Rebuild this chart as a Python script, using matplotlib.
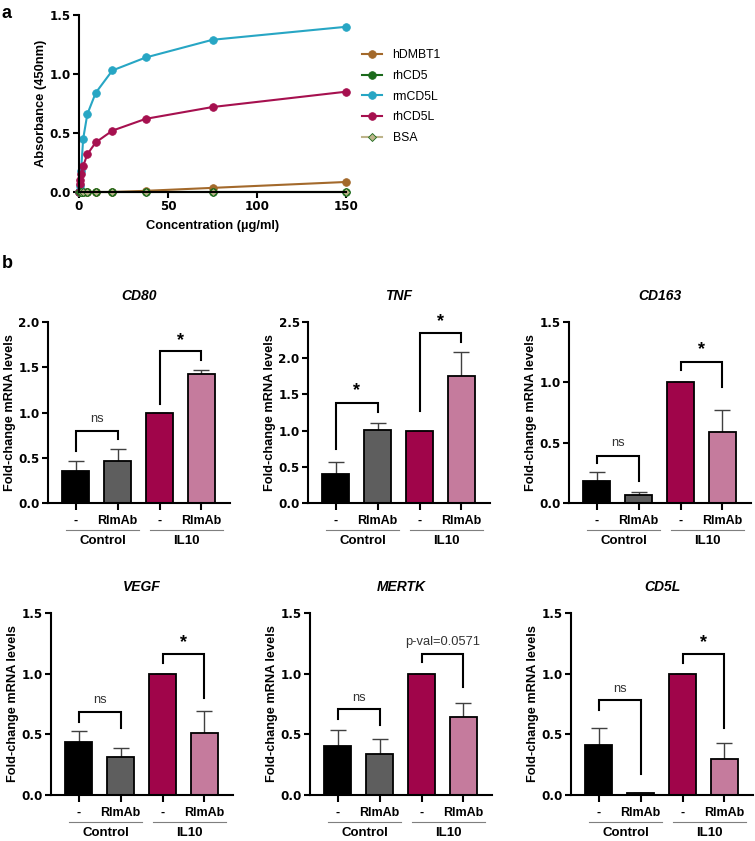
import numpy as np
import matplotlib
matplotlib.use('Agg')
import matplotlib.pyplot as plt
from matplotlib.transforms import blended_transform_factory

plt.rcParams['font.family'] = ['Liberation Sans', 'DejaVu Sans']
plt.rcParams['font.weight'] = 'bold'

# ---- panel a data ----
conc = [0, 0.29, 0.59, 1.17, 2.34, 4.69, 9.38, 18.75, 37.5, 75, 150]
absorb = {
    'hDMBT1': [0, 0, 0, 0, 0, 0, 0, 0.0, 0.01, 0.035, 0.085],
    'rhCD5': [0, 0, 0, 0, 0, 0, 0, 0, 0, 0, 0],
    'rmCD5L': [0.0, 0.02, 0.05, 0.18, 0.45, 0.66, 0.84, 1.03, 1.14, 1.29, 1.40],
    'rhCD5L': [0.0, 0.07, 0.10, 0.15, 0.22, 0.32, 0.42, 0.52, 0.62, 0.72, 0.85],
    'BSA': [0, 0, 0, 0, 0, 0, 0, 0, 0, 0, 0],
}
line_colors = {'hDMBT1': '#A3692B', 'rhCD5': '#1B6A1B', 'rmCD5L': '#27A6C4',
               'rhCD5L': '#A6104F', 'BSA': '#BDB48A'}

# ---- panel b data ----
genes = ['CD80', 'TNF', 'CD163', 'VEGF', 'MERTK', 'CD5L']
conditions = ['-', 'RlmAb', '-', 'RlmAb']
groups = ['Control', 'IL10']
means = {
    'CD80': [0.35, 0.46, 1.0, 1.42],
    'TNF': [0.40, 1.01, 1.0, 1.76],
    'CD163': [0.18, 0.063, 1.0, 0.59],
    'VEGF': [0.44, 0.31, 1.0, 0.515],
    'MERTK': [0.40, 0.335, 1.0, 0.645],
    'CD5L': [0.41, 0.015, 1.0, 0.296],
}
errs = {
    'CD80': [0.115, 0.14, 0.0, 0.05],
    'TNF': [0.17, 0.09, 0.0, 0.32],
    'CD163': [0.08, 0.027, 0.0, 0.18],
    'VEGF': [0.09, 0.08, 0.0, 0.175],
    'MERTK': [0.135, 0.125, 0.0, 0.11],
    'CD5L': [0.14, 0.0, 0.0, 0.13],
}
ymax = {'CD80': 2.0, 'TNF': 2.5, 'CD163': 1.5, 'VEGF': 1.5, 'MERTK': 1.5, 'CD5L': 1.5}
# brackets: (left bar, right bar, top, left leg end, right leg end, label, label y)
brackets = {
    'CD80': [(0, 1, 0.80, 0.57, 0.71, 'ns', 0.93), (2, 3, 1.68, 1.09, 1.58, '*', 1.80)],
    'TNF': [(0, 1, 1.385, 0.75, 1.26, '*', 1.55), (2, 3, 2.35, 1.27, 2.23, '*', 2.50)],
    'CD163': [(0, 1, 0.39, 0.33, 0.18, 'ns', 0.50), (2, 3, 1.165, 1.10, 0.96, '*', 1.27)],
    'VEGF': [(0, 1, 0.68, 0.60, 0.55, 'ns', 0.78), (2, 3, 1.16, 1.09, 0.80, '*', 1.26)],
    'MERTK': [(0, 1, 0.706, 0.63, 0.576, 'ns', 0.80), (2, 3, 1.16, 1.094, 0.894, 'p-val=0.0571', 1.26)],
    'CD5L': [(0, 1, 0.78, 0.70, 0.17, 'ns', 0.87), (2, 3, 1.16, 1.09, 0.55, '*', 1.26)],
}
bar_colors = ['#000000', '#5E5E5E', '#A0054A', '#C57B9D']

W, H = 755, 841
fig = plt.figure(figsize=(W / 100, H / 100), dpi=100)
num_font = {'family': 'DejaVu Sans', 'weight': 'bold', 'size': 8.6}


def px_axes(left, top, right, bottom):
    return fig.add_axes([left / W, 1 - bottom / H, (right - left) / W, (bottom - top) / H])


def style_axes(ax):
    for s in ['top', 'right']:
        ax.spines[s].set_visible(False)
    for s in ['left', 'bottom']:
        ax.spines[s].set_linewidth(1.5)
    ax.tick_params(axis='both', width=1.5)


# ---- panel a ----
axa = px_axes(79, 15, 346, 192)
for name in ['hDMBT1', 'rhCD5', 'rmCD5L', 'rhCD5L', 'BSA']:
    mk = 'D' if name == 'BSA' else 'o'
    ms = 4.5 if name == 'BSA' else 5.5
    mec = line_colors['rhCD5'] if name == 'BSA' else line_colors[name]
    axa.plot(conc, absorb[name], color=line_colors[name], marker=mk, ms=ms,
             mec=mec, mew=0.6, lw=1.5, label=name, clip_on=False)
axa.set_xlim(0, 150)
axa.set_ylim(0, 1.5)
axa.set_xticks([0, 50, 100, 150])
axa.set_xticklabels(['0', '50', '100', '150'], fontdict=num_font)
axa.set_yticks([0, 0.5, 1.0, 1.5])
axa.set_yticklabels(['0.0', '0.5', '1.0', '1.5'], fontdict=num_font)
axa.tick_params(length=4, pad=2)
axa.set_xlabel('Concentration (µg/ml)', fontsize=9.3, fontweight='bold', labelpad=5)
axa.set_ylabel('Absorbance (450nm)', fontsize=9.3, fontweight='bold', labelpad=2)
style_axes(axa)
axa.legend(loc='upper left', bbox_to_anchor=(362 / W, 1 - 49 / H),
           bbox_transform=fig.transFigure, frameon=False,
           handlelength=1.6, handletextpad=0.9, labelspacing=0.72,
           borderpad=0, borderaxespad=0, prop={'weight': 'normal', 'size': 8.8})

fig.text(2 / W, 1 - 18 / H, 'a', fontsize=13, fontweight='bold', va='baseline')
fig.text(2 / W, 1 - 268 / H, 'b', fontsize=13, fontweight='bold', va='baseline')

# ---- panel b ----
boxes = [(48, 322, 230, 503), (308, 322, 490, 503), (569, 322, 751, 503),
         (51, 613, 233, 795), (310, 613, 492, 795), (571, 613, 753, 795)]
x = np.arange(4)
for gene, box in zip(genes, boxes):
    ax = px_axes(*box)
    m = means[gene]
    e = errs[gene]
    ax.bar(x, m, width=0.65, color=bar_colors, edgecolor='black', linewidth=1.3, zorder=2)
    ax.errorbar(x, m, yerr=[np.zeros(4), e], fmt='none', ecolor='#404040',
                elinewidth=1.0, capsize=6, capthick=1.0, zorder=1)
    ax.set_xlim(-0.66, 3.68)
    ax.set_ylim(0, ymax[gene])
    yt = np.arange(0, ymax[gene] + 0.01, 0.5)
    ax.set_yticks(yt)
    ax.set_yticklabels(['%.1f' % v for v in yt], fontdict=num_font)
    ax.set_xticks(x)
    ax.set_xticklabels(conditions, fontsize=9.0, fontweight='bold')
    ax.tick_params(axis='y', length=4, pad=2)
    ax.tick_params(axis='x', length=5, pad=3.5)
    ax.set_ylabel('Fold-change mRNA levels', fontsize=9.2, fontweight='bold', labelpad=2)
    style_axes(ax)
    ax.annotate(gene, xy=(0.5, 1), xycoords='axes fraction', xytext=(0, 18.5),
                textcoords='offset points', ha='center', va='center',
                fontsize=10, fontweight='bold', fontstyle='italic')
    # significance brackets
    for (i, j, top, lleg, rleg, lab, ly) in brackets[gene]:
        ax.plot([i, i, j, j], [lleg, top, top, rleg], color='black', lw=1.5,
                clip_on=False, zorder=3, solid_joinstyle='miter')
        if lab == '*':
            ax.text((i + j) / 2, ly, lab, ha='center', va='center', fontsize=13,
                    fontweight='bold')
        else:
            ax.text((i + j) / 2, ly, lab, ha='center', va='center', fontsize=9.3,
                    fontweight='normal', color='#333333')
    # group lines and labels
    tr = blended_transform_factory(ax.transData, ax.transAxes)
    for k, g in enumerate(groups):
        x0 = 2 * k - 0.22
        x1 = 2 * k + 1.52
        ax.plot([x0, x1], [-27 / 182, -27 / 182], color='#7F7F7F', lw=0.8,
                transform=tr, clip_on=False)
        ax.text((x0 + x1) / 2, -38.5 / 182, g, transform=tr, ha='center', va='center',
                fontsize=9.5, fontweight='bold')

fig.savefig('out.png', dpi=100)
